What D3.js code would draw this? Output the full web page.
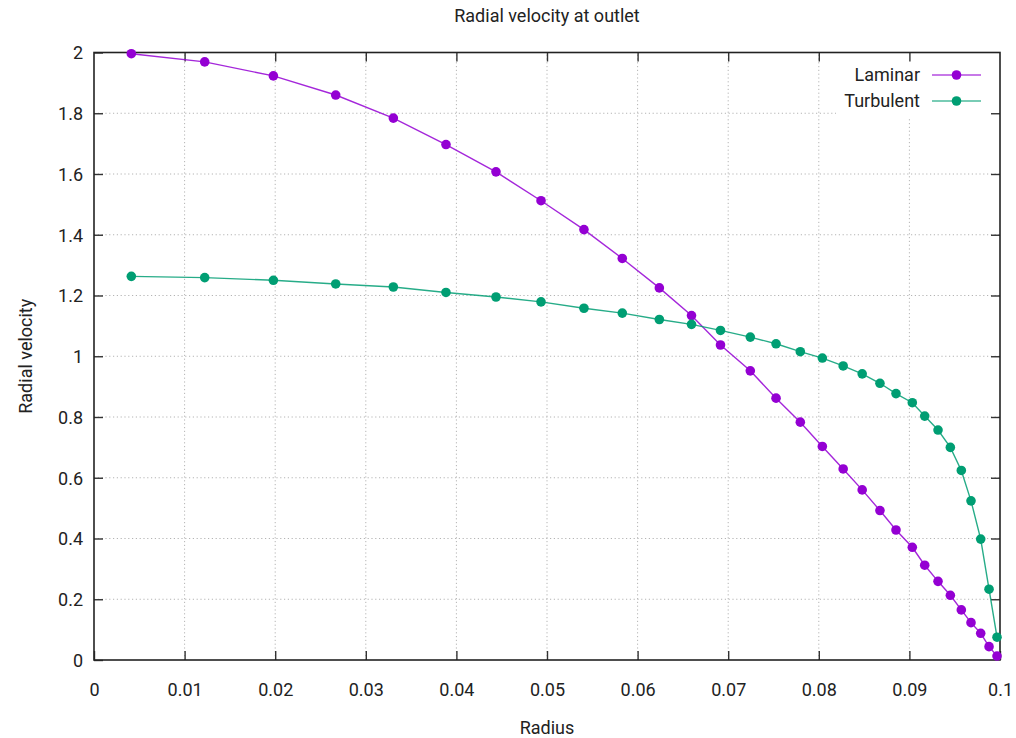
<!DOCTYPE html>
<html>
<head>
<meta charset="utf-8">
<script src="https://cdn.jsdelivr.net/npm/d3@7"></script>
<style>
  html, body { margin: 0; padding: 0; background: #fff; }
  svg { display: block; font-family: Roboto, "Noto Sans", sans-serif; }
</style>
</head>
<body>
<svg id="chart" width="1016" height="738"></svg>
<script>
// Radial positions of the outlet cells (same for both cases)
const radius = [0.00412, 0.01222, 0.01980, 0.02668, 0.03304, 0.03885, 0.04437, 0.04934,
  0.05408, 0.05831, 0.06240, 0.06595, 0.06915, 0.07244, 0.07528, 0.07796, 0.08039,
  0.08269, 0.08479, 0.08675, 0.08852, 0.09032, 0.09169, 0.09316, 0.09452, 0.09573,
  0.09680, 0.09787, 0.09879, 0.09967];

// Radial velocity, laminar case
const laminar = [1.996, 1.969, 1.923, 1.860, 1.784, 1.697, 1.607, 1.512, 1.417, 1.322,
  1.225, 1.134, 1.037, 0.952, 0.862, 0.783, 0.703, 0.629, 0.560, 0.492, 0.428, 0.371,
  0.312, 0.259, 0.213, 0.165, 0.123, 0.088, 0.044, 0.013];

// Radial velocity, turbulent case
const turbulent = [1.263, 1.259, 1.250, 1.238, 1.228, 1.210, 1.195, 1.179, 1.158, 1.142,
  1.121, 1.105, 1.085, 1.063, 1.041, 1.015, 0.994, 0.968, 0.942, 0.911, 0.877, 0.847,
  0.803, 0.757, 0.700, 0.624, 0.524, 0.398, 0.233, 0.075];

const seriesNames = ["Laminar", "Turbulent"];
const seriesColors = ["#9400d3", "#009e73"];

const xTicks = [0, 0.01, 0.02, 0.03, 0.04, 0.05, 0.06, 0.07, 0.08, 0.09, 0.1];
const xTickLabels = ["0", "0.01", "0.02", "0.03", "0.04", "0.05", "0.06", "0.07", "0.08", "0.09", "0.1"];
const yTicks = [0, 0.2, 0.4, 0.6, 0.8, 1, 1.2, 1.4, 1.6, 1.8, 2];
const yTickLabels = ["0", "0.2", "0.4", "0.6", "0.8", "1", "1.2", "1.4", "1.6", "1.8", "2"];

(function draw() {
  const svg = d3.select("#chart");
  const pl = 94, pr = 1000, pt = 52.5, pb = 660;
  const fontSize = 18;
  const textColor = "#222";

  const x = d3.scaleLinear().domain([0, 0.1]).range([pl, pr]);
  const y = d3.scaleLinear().domain([0, 2]).range([pb, pt]);

  // Dotted grid at interior ticks
  const grid = svg.append("g")
    .attr("stroke", "#b4b4b4").attr("stroke-width", 1).attr("stroke-dasharray", "1.2,2.6");
  grid.selectAll("line.gx").data(xTicks.slice(1, -1)).join("line").attr("class", "gx")
    .attr("x1", d => x(d)).attr("x2", d => x(d)).attr("y1", pb).attr("y2", pt);
  grid.selectAll("line.gy").data(yTicks.slice(1, -1)).join("line").attr("class", "gy")
    .attr("x1", pl).attr("x2", pr).attr("y1", d => y(d)).attr("y2", d => y(d));

  // Opaque key background
  svg.append("rect").attr("x", 836).attr("y", pt + 1).attr("width", pr - 836 - 1).attr("height", 64)
    .attr("fill", "#fff");

  // Axes with inward ticks, mirrored on top and right
  const tickLen = 9;
  function styleAxis(g) {
    g.select(".domain").remove();
    g.selectAll(".tick line").attr("stroke", "#333").attr("stroke-width", 1.4);
    g.selectAll(".tick text").attr("fill", textColor).attr("font-size", fontSize)
      .attr("font-family", "Roboto, sans-serif");
  }

  const xfmt = (d, i) => xTickLabels[i];
  const yfmt = (d, i) => yTickLabels[i];

  const gxb = svg.append("g").attr("transform", `translate(0,${pb})`)
    .call(d3.axisBottom(x).tickValues(xTicks).tickFormat(xfmt).tickSizeInner(-tickLen).tickSizeOuter(0));
  styleAxis(gxb);
  gxb.selectAll(".tick text").attr("y", 36).attr("dy", null);

  const gxt = svg.append("g").attr("transform", `translate(0,${pt})`)
    .call(d3.axisTop(x).tickValues(xTicks.slice(1, -1)).tickFormat("").tickSizeInner(-tickLen).tickSizeOuter(0));
  styleAxis(gxt);

  const gyl = svg.append("g").attr("transform", `translate(${pl},0)`)
    .call(d3.axisLeft(y).tickValues(yTicks).tickFormat(yfmt).tickSizeInner(-tickLen).tickSizeOuter(0));
  styleAxis(gyl);
  gyl.selectAll(".tick text").attr("x", -11).attr("dy", "0.36em");

  const gyr = svg.append("g").attr("transform", `translate(${pr},0)`)
    .call(d3.axisRight(y).tickValues(yTicks.slice(1, -1)).tickFormat("").tickSizeInner(-tickLen).tickSizeOuter(0));
  styleAxis(gyr);

  // Plot border
  svg.append("rect").attr("x", pl).attr("y", pt).attr("width", pr - pl).attr("height", pb - pt)
    .attr("fill", "none").attr("stroke", "#222").attr("stroke-width", 1.6);

  // Series
  const series = [laminar, turbulent];
  const line = d3.line().x((d, i) => x(radius[i])).y(d => y(d));
  series.forEach((vals, s) => {
    svg.append("path").datum(vals)
      .attr("fill", "none").attr("stroke", seriesColors[s]).attr("stroke-width", 1.4)
      .attr("stroke-opacity", 0.85).attr("d", line);
    svg.append("g").selectAll("circle").data(vals).join("circle")
      .attr("cx", (d, i) => x(radius[i])).attr("cy", d => y(d)).attr("r", 4.8)
      .attr("fill", seriesColors[s]);
  });

  // Key
  const keyY = [75, 101];
  seriesNames.forEach((name, s) => {
    svg.append("text").attr("x", 920).attr("y", keyY[s]).attr("dy", "0.36em")
      .attr("text-anchor", "end").attr("font-size", fontSize).attr("fill", textColor).text(name);
    svg.append("line").attr("x1", 932).attr("x2", 981).attr("y1", keyY[s]).attr("y2", keyY[s])
      .attr("stroke", seriesColors[s]).attr("stroke-width", 1.4).attr("stroke-opacity", 0.7);
    svg.append("circle").attr("cx", 956.5).attr("cy", keyY[s]).attr("r", 4.8).attr("fill", seriesColors[s]);
  });

  // Titles
  svg.append("text").attr("x", (pl + pr) / 2).attr("y", 22).attr("text-anchor", "middle")
    .attr("font-size", fontSize).attr("fill", textColor).text("Radial velocity at outlet");
  svg.append("text").attr("x", (pl + pr) / 2).attr("y", 734).attr("text-anchor", "middle")
    .attr("font-size", fontSize).attr("fill", textColor).text("Radius");
  svg.append("text").attr("transform", `translate(32,${(pt + pb) / 2}) rotate(-90)`)
    .attr("text-anchor", "middle").attr("font-size", fontSize).attr("fill", textColor).text("Radial velocity");
})();
</script>
</body>
</html>
